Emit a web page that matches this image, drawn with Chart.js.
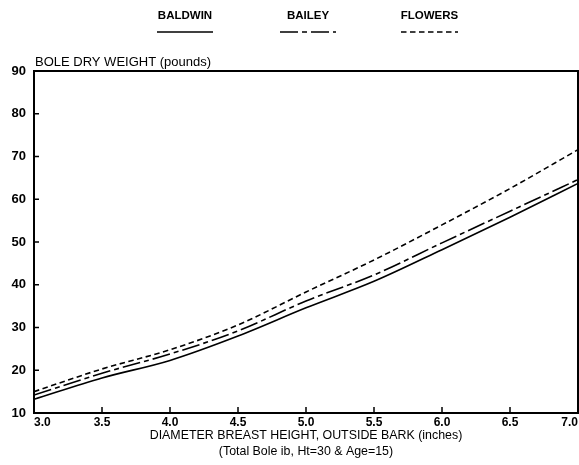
<!DOCTYPE html>
<html>
<head>
<meta charset="utf-8">
<script src="https://cdn.jsdelivr.net/npm/chart.js@4"></script>
<style>
  html, body { margin: 0; padding: 0; background: #fff; }
  #wrap { width: 579px; height: 465px; position: relative; }
</style>
</head>
<body>
<div id="wrap"><canvas id="c"></canvas></div>
<script>
const dbh = [3.0, 3.5, 4.0, 4.5, 5.0, 5.5, 6.0, 6.5, 7.0];
const baldwin = [13.2, 18.2, 22.3, 28.0, 34.6, 40.8, 48.2, 55.8, 63.7];
const bailey  = [14.2, 19.3, 23.8, 29.2, 36.2, 42.3, 49.8, 57.2, 64.6];
const flowers = [15.0, 20.3, 24.8, 30.6, 38.3, 45.8, 54.0, 62.5, 71.6];
const seriesNames = ['BALDWIN', 'BAILEY', 'FLOWERS'];
const yTicks = [10, 20, 30, 40, 50, 60, 70, 80, 90];
const xTitle = ['DIAMETER BREAST HEIGHT, OUTSIDE BARK (inches)', '(Total Bole ib, Ht=30 & Age=15)'];
const yTitle = 'BOLE DRY WEIGHT (pounds)';

const toPts = (ys) => dbh.map((x, i) => ({ x: x, y: ys[i] }));
const dashes = [[], [18, 4, 5, 4], [5.5, 3.5]];
const FONT = '"Liberation Sans", Arial, sans-serif';

const extras = {
  id: 'extras',
  afterDraw(chart) {
    const ctx = chart.ctx;
    const a = chart.chartArea;
    const xs = chart.scales.x, ys = chart.scales.y;
    ctx.save();
    // frame
    ctx.strokeStyle = '#000';
    ctx.lineWidth = 2;
    ctx.strokeRect(a.left, a.top, a.right - a.left, a.bottom - a.top);
    // inward ticks
    ctx.lineWidth = 1.5;
    ctx.beginPath();
    yTicks.forEach(v => {
      const py = ys.getPixelForValue(v);
      ctx.moveTo(a.left, py); ctx.lineTo(a.left + 5, py);
    });
    dbh.forEach(v => {
      const px = xs.getPixelForValue(v);
      ctx.moveTo(px, a.bottom); ctx.lineTo(px, a.bottom - 6);
    });
    ctx.stroke();
    // y title
    ctx.fillStyle = '#000';
    ctx.font = '13px ' + FONT;
    ctx.textAlign = 'left';
    ctx.textBaseline = 'alphabetic';
    ctx.fillText(yTitle, a.left + 1, a.top - 5);
    // legend
    const legX = [[157, 213], [280, 336], [401, 458]];
    ctx.font = 'bold 11.5px ' + FONT;
    ctx.textAlign = 'center';
    chart.data.datasets.forEach((ds, i) => {
      const [x0, x1] = legX[i];
      ctx.fillText(ds.label, (x0 + x1) / 2, 19);
      ctx.setLineDash(ds.borderDash || []);
      ctx.lineWidth = 1.5;
      ctx.beginPath();
      ctx.moveTo(x0, 32); ctx.lineTo(x1, 32);
      ctx.stroke();
    });
    ctx.restore();
  }
};

new Chart(document.getElementById('c'), {
  type: 'line',
  data: {
    datasets: [baldwin, bailey, flowers].map((ys, i) => ({
      label: seriesNames[i],
      data: toPts(ys),
      borderColor: '#000',
      borderWidth: 1.6,
      borderDash: dashes[i],
      pointRadius: 0,
      tension: 0.4,
      cubicInterpolationMode: 'monotone',
      fill: false
    }))
  },
  options: {
    responsive: true,
    maintainAspectRatio: false,
    animation: false,
    devicePixelRatio: 1,
    layout: { padding: { top: 71, right: 1, left: 0, bottom: 0 } },
    plugins: { legend: { display: false }, tooltip: { enabled: false } },
    scales: {
      x: {
        type: 'linear', min: 3, max: 7,
        afterFit(s) { s.height = 52; s.paddingLeft = 0; s.paddingRight = 0; },
        grid: { display: false, drawTicks: false },
        border: { display: false },
        ticks: {
          stepSize: 0.5, padding: 2, color: '#000', align: 'inner',
          font: { family: FONT, size: 12, weight: 'bold' },
          callback: v => Number(v).toFixed(1),
          maxRotation: 0, autoSkip: false
        },
        title: {
          display: true, text: xTitle, color: '#000',
          font: { family: FONT, size: 12.4, lineHeight: 1.3 },
          padding: { top: 0, bottom: 5 }
        }
      },
      y: {
        min: 10, max: 90,
        afterFit(s) { s.width = 34; },
        afterBuildTicks(s) { s.ticks = yTicks.map(v => ({ value: v })); },
        grid: { display: false, drawTicks: false },
        border: { display: false },
        ticks: {
          padding: 8, color: '#000',
          font: { family: FONT, size: 13, weight: 'bold' }
        }
      }
    }
  },
  plugins: [extras]
});
</script>
</body>
</html>
